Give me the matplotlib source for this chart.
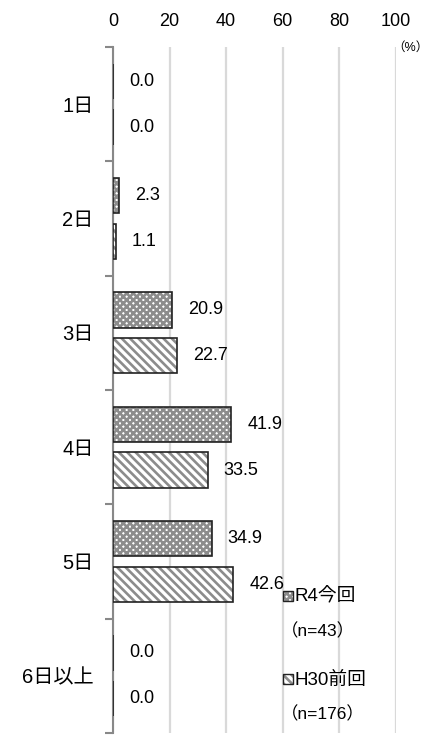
import matplotlib
matplotlib.use("Agg")
import matplotlib.pyplot as plt
from matplotlib.patches import Rectangle
from matplotlib.transforms import offset_copy
import numpy as np

plt.rcParams['font.family'] = ['Liberation Sans', 'Noto Sans CJK JP', 'DejaVu Sans']
plt.rcParams['hatch.linewidth'] = 1.9

categories = ["1日", "2日", "3日", "4日", "5日", "6日以上"]
r4_values = [0.0, 2.3, 20.9, 41.9, 34.9, 0.0]
h30_values = [0.0, 1.1, 22.7, 33.5, 42.6, 0.0]
series_names = ["R4今回", "H30前回"]
series_n = ["（n=43）", "（n=176）"]
x_ticks = [0, 20, 40, 60, 80, 100]

W, H = 430, 735
fig = plt.figure(figsize=(W / 100, H / 100), dpi=100)
ax = fig.add_axes([113 / W, 1 - 733 / H, (395.5 - 113) / W, (733 - 47) / H])

y = np.arange(len(categories))
off, hgt = 0.2, 0.31

styles = [
    dict(face="white", hatch="xxxxx", hc="#8c8c8c"),
    dict(face="white", hatch="\\\\\\\\", hc="#8c8c8c"),
]

for vals, sgn, st in [(r4_values, -1, styles[0]), (h30_values, 1, styles[1])]:
    ax.barh(y + sgn * off, vals, height=hgt, color=st["face"], hatch=st["hatch"],
            edgecolor=st["hc"], linewidth=0, zorder=3)
    ax.barh(y + sgn * off, vals, height=hgt, fill=False, edgecolor="#222222",
            linewidth=1.2, zorder=4)
    tr = offset_copy(ax.transData, fig=fig, x=16, y=0, units="dots")
    for yi, v in zip(y + sgn * off, vals):
        ax.text(v, yi, f"{v:.1f}", transform=tr, ha="left", va="center",
                fontsize=13, color="black", zorder=5)

ax.set_xlim(0, 100)
ax.set_ylim(len(categories) - 0.5, -0.5)
ax.xaxis.tick_top()
ax.set_xticks(x_ticks)
ax.set_xticklabels([str(t) for t in x_ticks], fontsize=13)
ax.tick_params(axis="x", length=0, pad=12)
ax.xaxis.grid(True, color="#d9d9d9", linewidth=1.6, zorder=0)
ax.set_axisbelow(True)

ax.set_yticks(y)
ax.set_yticklabels(categories, fontsize=14.5)
ax.tick_params(axis="y", which="major", length=0, pad=14)
ax.set_yticks(np.arange(len(categories) + 1) - 0.5, minor=True)
ax.tick_params(axis="y", which="minor", length=6, width=1.5, color="#888888")

for s in ["top", "right", "bottom"]:
    ax.spines[s].set_visible(False)
ax.spines["left"].set_color("#888888")
ax.spines["left"].set_linewidth(1.5)

fig.text(429 / W, 1 - 48 / H, "（%）", fontsize=9, ha="right", va="center")

# legend
leg_y = [591, 674]
for i, (yy, name, n) in enumerate(zip(leg_y, series_names, series_n)):
    st = styles[i]
    x0 = 283 / W
    w = 10 / W
    h = 10 / H
    y0 = 1 - (yy + 10) / H
    fig.add_artist(Rectangle((x0, y0), w, h, transform=fig.transFigure,
                             facecolor=st["face"], hatch=st["hatch"],
                             edgecolor=st["hc"], linewidth=0))
    fig.add_artist(Rectangle((x0, y0), w, h, transform=fig.transFigure,
                             fill=False, edgecolor="#222222", linewidth=1.0))
    fig.text(294 / W, 1 - (yy + 6) / H, name, fontsize=13.5, ha="left", va="center")
    fig.text(281 / W, 1 - (yy + 40) / H, n, fontsize=12.5, ha="left", va="center")

fig.savefig("out.png", dpi=100)
